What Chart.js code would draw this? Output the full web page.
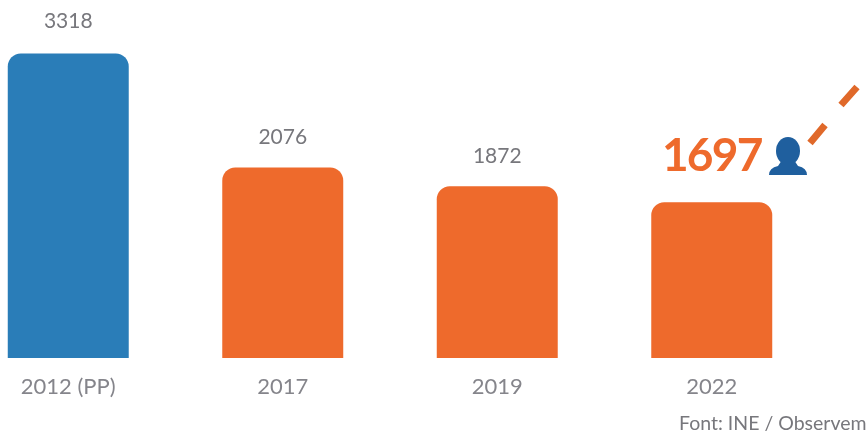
<!DOCTYPE html>
<html>
<head>
<meta charset="utf-8">
<style>
  html, body { margin: 0; padding: 0; background: #fff; overflow: hidden; }
  /* first bar sits close to the left edge, so the canvas starts off-page */
  #myChart { position: absolute; left: -39px; top: 0; filter: blur(0.5px); }
</style>
</head>
<body>
<canvas id="myChart" width="907" height="437"></canvas>
<script src="https://cdn.jsdelivr.net/npm/chart.js@4"></script>
<script>
var categories = ["2012 (PP)", "2017", "2019", "2022"];
var population = [3318, 2076, 1872, 1697];
var barColors = ["#2a7db8", "#ee6a2c", "#ee6a2c", "#ee6a2c"];
var sourceNote = "Font: INE / Observem";

// value labels, source note and the little person with the dashed line
var extras = {
  id: "extras",
  afterDraw: function (chart) {
    var ctx = chart.ctx;
    var bars = chart.getDatasetMeta(0).data;
    var gaps = [32, 30, 30];
    ctx.save();
    ctx.textAlign = "center";
    ctx.textBaseline = "middle";
    bars.forEach(function (bar, i) {
      if (i === bars.length - 1) return;
      ctx.font = "21px Lato";
      ctx.fillStyle = "#77777c";
      ctx.fillText(population[i], bar.x, bar.y - gaps[i]);
    });

    var last = bars[bars.length - 1];
    ctx.font = "bold 46px Lato";
    ctx.letterSpacing = "-1.8px";
    ctx.fillStyle = "#ee6a2c";
    ctx.fillText(population[3], last.x, last.y - 46);
    ctx.letterSpacing = "0px";

    ctx.textAlign = "left";
    ctx.font = "19.5px Lato";
    ctx.fillStyle = "#77777c";
    ctx.fillText(sourceNote, 718, 424);

    // person icon
    ctx.fillStyle = "#1f5f9e";
    ctx.beginPath();
    ctx.ellipse(827, 151, 12, 14, 0, 0, Math.PI * 2);
    ctx.fill();
    ctx.beginPath();
    ctx.moveTo(808, 175);
    ctx.quadraticCurveTo(808, 168, 817, 166);
    ctx.lineTo(821, 160);
    ctx.lineTo(833, 160);
    ctx.lineTo(837, 166);
    ctx.quadraticCurveTo(846, 168, 846, 175);
    ctx.closePath();
    ctx.fill();

    // dashed line going off to the top right
    ctx.strokeStyle = "#e0692a";
    ctx.lineWidth = 7;
    ctx.beginPath();
    ctx.moveTo(849, 143);
    ctx.lineTo(864, 125);
    ctx.moveTo(880, 105);
    ctx.lineTo(896, 87);
    ctx.stroke();
    ctx.restore();
  },
};

window.onload = function () {
  var ctx = document.getElementById("myChart").getContext("2d");
  new Chart(ctx, {
    type: "bar",
    data: {
      labels: categories,
      datasets: [
        {
          data: population,
          backgroundColor: barColors,
          borderRadius: { topLeft: 13, topRight: 13 },
          borderSkipped: "bottom",
          categoryPercentage: 1,
          barPercentage: 0.564,
        },
      ],
    },
    options: {
      responsive: false,
      animation: false,
      layout: { padding: { left: 0, right: 49, top: 0, bottom: 19 } },
      plugins: { legend: { display: false }, tooltip: { enabled: false } },
      scales: {
        x: {
          grid: { display: false },
          border: { display: false },
          afterFit: function (scale) {
            scale.height = 60;
          },
          ticks: {
            color: "#85858b",
            padding: 8,
            maxRotation: 0,
            font: { family: "Lato", size: 22 },
          },
        },
        y: { display: false, min: 0, max: 3900 },
      },
    },
    plugins: [extras],
  });
};
</script>
</body>
</html>
